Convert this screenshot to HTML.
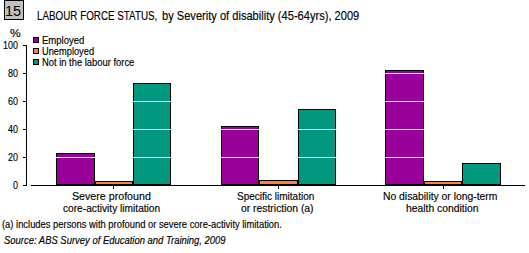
<!DOCTYPE html>
<html><head><meta charset="utf-8">
<style>
html,body{margin:0;padding:0;background:#fff;}
body{width:529px;height:253px;position:relative;overflow:hidden;font-family:"Liberation Sans",sans-serif;color:#000;}
.t{position:absolute;white-space:nowrap;line-height:1;transform-origin:0 0;-webkit-text-stroke:0.15px #000;}
svg{position:absolute;left:0;top:0;}
</style></head><body>
<svg width="529" height="253" shape-rendering="crispEdges">
  <rect x="4.5" y="0.5" width="19" height="19" fill="#c0c0c0" stroke="#000" stroke-width="1"/>
  <rect x="33.5" y="37.5" width="5" height="5" fill="#990099" stroke="#000"/>
  <rect x="33.5" y="48.5" width="5" height="5" fill="#ff8040" stroke="#000"/>
  <rect x="33.5" y="59.5" width="5" height="5" fill="#009980" stroke="#000"/>
  <g stroke="#000" stroke-width="1">
    <rect x="56.5" y="153.5" width="38" height="31" fill="#990099"/>
    <rect x="95.5" y="181.5" width="37" height="3" fill="#ff8040"/>
    <rect x="133.5" y="83.5" width="37" height="101" fill="#009980"/>
    <rect x="221.5" y="126.5" width="37" height="58" fill="#990099"/>
    <rect x="259.5" y="180.5" width="38" height="4" fill="#ff8040"/>
    <rect x="298.5" y="109.5" width="37" height="75" fill="#009980"/>
    <rect x="385.5" y="70.5" width="38" height="114" fill="#990099"/>
    <rect x="424.5" y="181.5" width="37" height="3" fill="#ff8040"/>
    <rect x="462.5" y="163.5" width="38" height="21" fill="#009980"/>
  </g>
  <g fill="#fff">
    <rect x="31" y="73" width="494" height="1"/>
    <rect x="31" y="101" width="494" height="1"/>
    <rect x="31" y="129" width="494" height="1"/>
    <rect x="31" y="157" width="494" height="1"/>
  </g>
  <g fill="#000">
    <rect x="26" y="45" width="1" height="141"/>
    <rect x="23" y="45" width="3" height="1"/>
    <rect x="23" y="73" width="3" height="1"/>
    <rect x="23" y="101" width="3" height="1"/>
    <rect x="23" y="129" width="3" height="1"/>
    <rect x="23" y="157" width="3" height="1"/>
    <rect x="23" y="185" width="3" height="1"/>
    <rect x="31" y="185" width="494" height="1"/>
    <rect x="113" y="186" width="1" height="3"/>
    <rect x="278" y="186" width="1" height="3"/>
    <rect x="443" y="186" width="1" height="3"/>
  </g>
</svg>
<div class="t" style="left:5.00px;top:2.50px;font-size:15.50px;transform:scaleX(0.9380);-webkit-text-stroke:0;">15</div>
<div class="t" style="left:37.00px;top:10.00px;font-size:12.40px;transform:scaleX(0.7933);">LABOUR FORCE STATUS,</div>
<div class="t" style="left:162.00px;top:10.00px;font-size:12.40px;transform:scaleX(0.8950);">by Severity of disability (45-64yrs), 2009</div>
<div class="t" style="left:10.00px;top:28.00px;font-size:10.80px;transform:scaleX(1.1111);">%</div>
<div class="t" style="left:3.00px;top:40.00px;font-size:10.80px;transform:scaleX(0.8235);">100</div>
<div class="t" style="left:8.00px;top:68.00px;font-size:10.80px;transform:scaleX(0.8333);">80</div>
<div class="t" style="left:8.00px;top:96.00px;font-size:10.80px;transform:scaleX(0.8333);">60</div>
<div class="t" style="left:8.00px;top:124.00px;font-size:10.80px;transform:scaleX(0.8333);">40</div>
<div class="t" style="left:8.00px;top:152.00px;font-size:10.80px;transform:scaleX(0.8333);">20</div>
<div class="t" style="left:13.00px;top:180.00px;font-size:10.80px;transform:scaleX(0.8333);">0</div>
<div class="t" style="left:42.00px;top:36.00px;font-size:10.00px;transform:scaleX(0.9535);">Employed</div>
<div class="t" style="left:42.00px;top:47.00px;font-size:10.00px;transform:scaleX(0.9273);">Unemployed</div>
<div class="t" style="left:42.00px;top:58.00px;font-size:10.00px;transform:scaleX(0.9381);">Not in the labour force</div>
<div class="t" style="left:72.00px;top:191.00px;font-size:10.80px;transform:scaleX(0.9872);">Severe profound</div>
<div class="t" style="left:63.00px;top:203.00px;font-size:10.80px;transform:scaleX(0.9417);">core-activity limitation</div>
<div class="t" style="left:237.00px;top:191.00px;font-size:10.80px;transform:scaleX(0.9268);">Specific limitation</div>
<div class="t" style="left:241.00px;top:203.00px;font-size:10.80px;transform:scaleX(0.9600);">or restriction (a)</div>
<div class="t" style="left:383.00px;top:191.00px;font-size:10.80px;transform:scaleX(0.9576);">No disability or long-term</div>
<div class="t" style="left:406.00px;top:203.00px;font-size:10.80px;transform:scaleX(0.9595);">health condition</div>
<div class="t" style="left:2.00px;top:220.00px;font-size:10.20px;transform:scaleX(0.9205);">(a) includes persons with profound or severe core-activity limitation.</div>
<div class="t" style="left:4.00px;top:236.00px;font-size:10.00px;transform:scaleX(0.9447);font-style:italic;">Source: ABS Survey of Education and Training, 2009</div>
</body></html>
